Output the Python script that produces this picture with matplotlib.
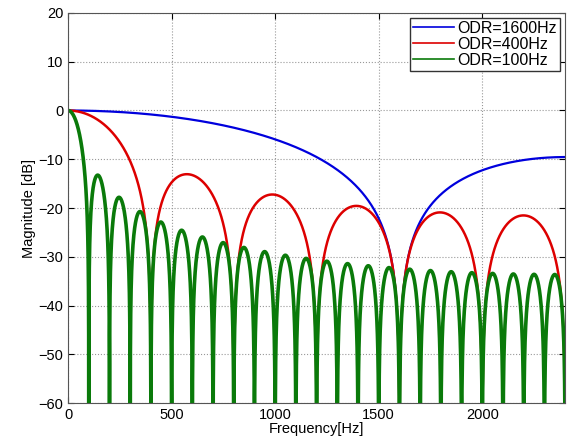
import numpy as np
import matplotlib
matplotlib.use("Agg")
import matplotlib.pyplot as plt

plt.rcParams['font.family'] = ['Liberation Sans', 'DejaVu Sans']

# averaging filter responses, base sample rate read from nulls/peaks
fs = 4800
odr = [1600, 400, 100]
labels = ["ODR=1600Hz", "ODR=400Hz", "ODR=100Hz"]
colors = ["#0000dd", "#dd0000", "#0a7a0a"]
widths = [1.6, 1.8, 2.6]
xticks = [0, 500, 1000, 1500, 2000]
yticks = [-60, -50, -40, -30, -20, -10, 0, 10, 20]

f = np.linspace(0, 2400, 4801)

fig = plt.figure(figsize=(5.72, 4.46), dpi=100)
ax = fig.add_axes([0.119, 0.096, 0.869, 0.875])

for r, lab, c, lw in zip(odr, labels, colors, widths):
    n = fs // r
    with np.errstate(divide='ignore', invalid='ignore'):
        h = np.abs(np.sin(n * np.pi * f / fs) / (n * np.sin(np.pi * f / fs)))
    h[0] = 1.0
    h = np.clip(h, 1e-5, None)
    ax.plot(f, 20 * np.log10(h), color=c, lw=lw, label=lab)

ax.set_xlim(0, 2400)
ax.set_ylim(-60, 20)
ax.set_xticks(xticks)
ax.set_yticks(yticks)
ax.tick_params(direction='in', top=True, right=True, labelsize=10.5, length=4)
ax.grid(True, linestyle=':', color='#999999', lw=0.8)
ax.set_xlabel("Frequency[Hz]", fontsize=10.5, labelpad=0)
ax.set_ylabel("Magnitude [dB]", fontsize=10.5, labelpad=2)
for s in ax.spines.values():
    s.set_color('#555555')

leg = ax.legend(loc='upper right', fontsize=11.5, handlelength=2.6, handletextpad=0.2,
                borderpad=0.2, labelspacing=0.05, borderaxespad=0.3, fancybox=False,
                framealpha=1)
leg.get_frame().set_edgecolor('#333333')
for l in leg.get_lines():
    l.set_linewidth(1.2)

fig.savefig("out.png", dpi=100)
